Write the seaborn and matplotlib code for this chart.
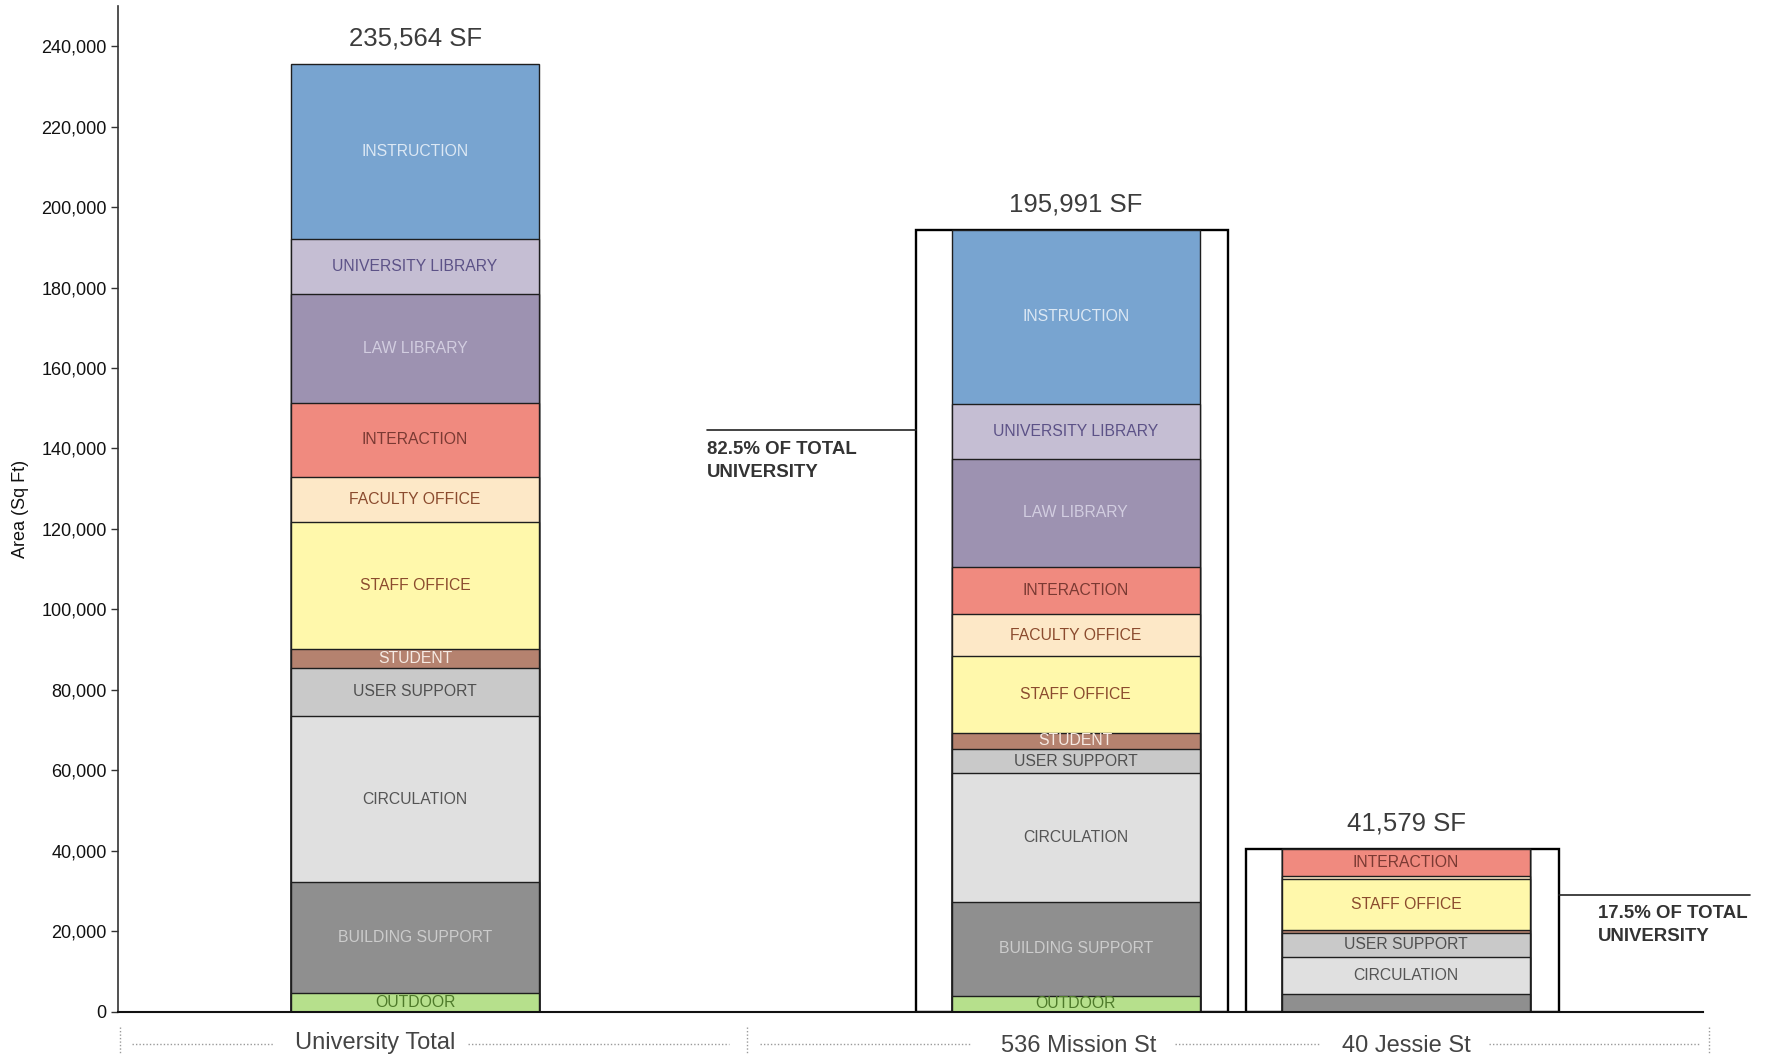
import numpy as np
import pandas as pd
import matplotlib
matplotlib.use("Agg")
import matplotlib.pyplot as plt
import matplotlib.transforms as mtransforms
from matplotlib.ticker import FuncFormatter
import seaborn as sns

#%% data - space categories, top of the stack first
categories = ["INSTRUCTION", "UNIVERSITY LIBRARY", "LAW LIBRARY", "INTERACTION",
              "FACULTY OFFICE", "STAFF OFFICE", "STUDENT", "USER SUPPORT",
              "CIRCULATION", "BUILDING SUPPORT", "OUTDOOR"]

sites = ["University Total", "536 Mission St", "40 Jessie St"]

# area (sq ft) per category, same order as categories
university_total = [43564, 13600, 27100, 18300, 11300, 31500, 4700, 12000, 41400, 27400, 4700]
mission_536 = [43200, 13700, 26900, 11600, 10600, 19000, 4000, 6100, 32000, 23300, 3900]
jessie_40 = [0, 0, 0, 6700, 700, 12700, 700, 5900, 9300, 4350, 0]

total_labels = ["235,564 SF", "195,991 SF", "41,579 SF"]
share_labels = ["82.5% OF TOTAL\nUNIVERSITY", "17.5% OF TOTAL\nUNIVERSITY"]
hide_labels = [("40 Jessie St", "BUILDING SUPPORT")]

fill_colors = ["#78a4d0", "#c5bed3", "#9d92b1", "#f08a7f", "#fde8c7", "#fff8ab",
               "#b5826f", "#c9c9c9", "#e0e0e0", "#8f8f8f", "#b6e08c"]
text_colors = ["#dce8f4", "#5c5287", "#d2cde0", "#7a3a33", "#8b4b2e", "#8b4b2e",
               "#f6ebe4", "#4f4f4f", "#555555", "#cccccc", "#4e7a2a"]

#%% long table
df = pd.DataFrame({
    "site": np.repeat(sites, len(categories)),
    "category": categories * len(sites),
    "area": university_total + mission_536 + jessie_40,
})
tops = []
for vals in [university_total, mission_536, jessie_40]:
    tops += list(np.cumsum(np.array(vals)[::-1])[::-1])
df["top"] = tops
df["bottom"] = df["top"] - df["area"]

totals = df.groupby("site", sort=False)["area"].sum().reset_index()

# empty slot between university and the two buildings
site_order = [sites[0], " ", sites[1], sites[2]]
pos = {s: site_order.index(s) for s in sites}

#%% style
sns.set_style("ticks")
plt.rcParams["font.family"] = ["Liberation Sans", "DejaVu Sans"]
narrow = ["Liberation Sans Narrow", "Liberation Sans", "DejaVu Sans"]

fig = plt.figure(figsize=(17.68, 10.54), dpi=100)
ax = fig.add_axes([0.067, 0.0403, 0.8961, 0.954])

bar_w = 0.75
box_w = 0.946
box_shift = -0.011

# outline boxes round the two buildings
box_df = totals[totals.site != sites[0]]
sns.barplot(data=box_df, x="site", y="area", order=site_order, color="white",
            saturation=1, width=box_w, edgecolor="black", linewidth=1.7,
            errorbar=None, ax=ax)
for p in ax.patches:
    p.set_x(p.get_x() + box_shift)

# stacked bars: draw cumulative heights from the top category down
for cat, col in zip(categories, fill_colors):
    sub = df[df.category == cat]
    sns.barplot(data=sub, x="site", y="top", order=site_order, color=col,
                saturation=1, width=bar_w, edgecolor="#1e1e1e", linewidth=1.0,
                errorbar=None, ax=ax)

# segment labels
for _, r in df.iterrows():
    if r.area < 3500 or (r.site, r.category) in hide_labels:
        continue
    tcol = text_colors[categories.index(r.category)]
    ax.text(pos[r.site], r.bottom + r.area / 2, r.category, ha="center",
            va="center", color=tcol, fontsize=11.3, family=narrow)

# totals above bars
for s, lab in zip(sites, total_labels):
    t = totals.loc[totals.site == s, "area"].iloc[0]
    ax.annotate(lab, (pos[s], t), xytext=(0, 18.5), textcoords="offset points",
                ha="center", va="center", fontsize=18.5, color="#3c3c3c")

# share callouts
left_box = pos[sites[1]] - box_w / 2 + box_shift
right_box = pos[sites[2]] + box_w / 2 + box_shift
ax.plot([0.884, left_box], [144600, 144600], color="#222222", lw=1.2)
ax.text(0.884, 141900, share_labels[0], ha="left", va="top", fontsize=13.4,
        fontweight="bold", color="#333333", linespacing=1.45)
ax.plot([right_box, 4.042], [29000, 29000], color="#222222",
        lw=1.2, clip_on=False)
ax.text(3.581, 26400, share_labels[1], ha="left", va="top", fontsize=13.4,
        fontweight="bold", color="#333333", linespacing=1.45, clip_on=False)

#%% axes
ax.set_xlim(-0.898, 3.898)
ax.set_ylim(0, 250000)
ax.set_yticks(range(0, 240001, 20000))
ax.yaxis.set_major_formatter(FuncFormatter(lambda v, p: f"{v:,.0f}"))
ax.tick_params(axis="y", direction="out", length=5, width=1, color="#333333",
               labelsize=13, labelcolor="#111111", pad=3.4)
ax.set_xticks([])
ax.set_xlabel("")
ax.set_ylabel("Area (Sq Ft)", fontsize=13, color="#111111")
ax.yaxis.set_label_coords(-0.0565, 0.5)
sns.despine(ax=ax)
ax.spines["left"].set_color("#333333")
ax.spines["left"].set_linewidth(1.2)
ax.spines["bottom"].set_color("#111111")
ax.spines["bottom"].set_linewidth(1.5)

# site labels with dotted leaders under the axis
trans = mtransforms.blended_transform_factory(ax.transData, ax.transAxes)
label_x = [-0.12, 2.01, 3.0]
label_y = [-0.031, -0.034, -0.034]
for s, x, y in zip(sites, label_x, label_y):
    ax.text(x, y, s, transform=trans, ha="center", va="center", fontsize=17,
            color="#444444", clip_on=False)
dots = [(-0.857, -0.427), (0.160, 0.949), (1.045, 1.68), (2.30, 2.736), (3.25, 3.89)]
for x0, x1 in dots:
    ax.plot([x0, x1], [-0.032, -0.032], transform=trans, color="#9a9a9a",
            lw=1, ls=(0, (1, 1.5)), clip_on=False)
for x in [-0.894, 1.004, 3.918]:
    ax.plot([x, x], [-0.015, -0.043], transform=trans, color="#9a9a9a",
            lw=1, ls=(0, (1, 1.5)), clip_on=False)

fig.savefig("out.png", dpi=100)
